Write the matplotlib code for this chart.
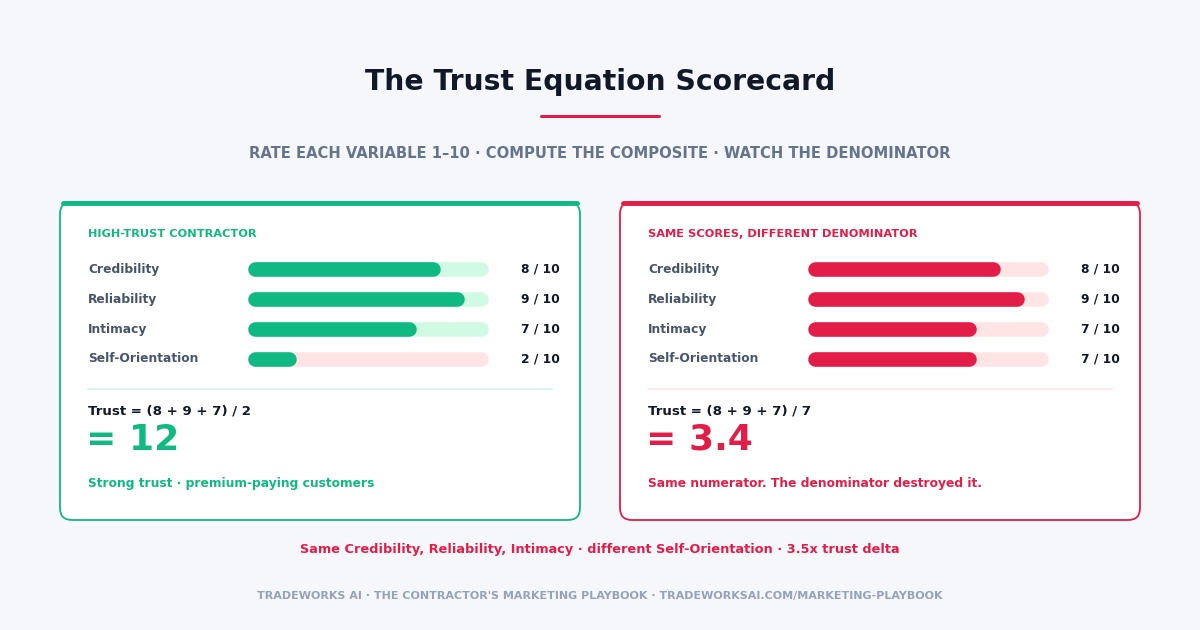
import matplotlib.pyplot as plt
from matplotlib.patches import FancyBboxPatch

labels = ["Credibility", "Reliability", "Intimacy", "Self-Orientation"]
left_scores = [8, 9, 7, 2]
right_scores = [8, 9, 7, 7]
max_score = 10

GREEN = "#10b981"
GREEN_LIGHT = "#d1fae5"
RED = "#e11d48"
RED_LIGHT = "#ffe4e6"
DARK = "#111827"
SLATE = "#475569"

fig = plt.figure(figsize=(12, 6.3), dpi=100)
fig.patch.set_facecolor("#f5f7fa")
ax = fig.add_axes([0, 0, 1, 1])
ax.set_xlim(0, 1200)
ax.set_ylim(630, 0)
ax.axis("off")

ax.text(600, 82, "The Trust Equation Scorecard", ha="center", va="center",
        fontsize=20.3, fontweight="bold", color=DARK)
ax.plot([541, 659], [116, 116], color=RED, lw=2.2, solid_capstyle="round")
ax.text(600, 154, "RATE EACH VARIABLE 1\u201310 \u00b7 COMPUTE THE COMPOSITE \u00b7 WATCH THE DENOMINATOR",
        ha="center", va="center", fontsize=10.6, fontweight="bold", color="#64748b")


def card(x0, color, track_colors, scores, title, formula, result, note, divider):
    box = FancyBboxPatch((x0, 202), 520, 318, boxstyle="round,pad=0,rounding_size=12",
                         fc="white", ec=color, lw=1.3)
    ax.add_patch(box)
    ax.plot([x0 + 3, x0 + 517], [202.5, 202.5], color=color, lw=3.5, solid_capstyle="round")
    ax.text(x0 + 28, 234, title, fontsize=8.2, fontweight="bold", color=color, va="center")
    track0 = x0 + 188
    unit = 240 / max_score
    for i, (lab, v) in enumerate(zip(labels, scores)):
        y = 269 + 30 * i
        ax.text(x0 + 28, y, lab, fontsize=8.8, fontweight="bold", color=SLATE, va="center")
        ax.plot([track0 + 7, track0 + max_score * unit - 7], [y, y], color=track_colors[i],
                lw=10.5, solid_capstyle="round")
        ax.plot([track0 + 7, track0 + v * unit - 7], [y, y], color=color,
                lw=10.5, solid_capstyle="round")
        ax.text(x0 + 500, y, f"{v} / {max_score}", fontsize=8.8, fontweight="bold",
                color=DARK, ha="right", va="center")
    ax.plot([x0 + 28, x0 + 492], [389, 389], color=divider, lw=1.2)
    ax.text(x0 + 28, 411, formula, fontsize=9.6, fontweight="bold", color=DARK, va="center")
    ax.text(x0 + 26, 440, result, fontsize=26, fontweight="bold", color=color, va="center")
    ax.text(x0 + 28, 483, note, fontsize=8.8, fontweight="bold", color=color, va="center")


l_num = sum(left_scores[:3])
r_num = sum(right_scores[:3])
card(60, GREEN, [GREEN_LIGHT] * 3 + [RED_LIGHT], left_scores, "HIGH-TRUST CONTRACTOR",
     f"Trust = ({' + '.join(map(str, left_scores[:3]))}) / {left_scores[3]}",
     f"= {l_num / left_scores[3]:g}", "Strong trust \u00b7 premium-paying customers", "#d1f5ea")
card(620, RED, [RED_LIGHT] * 4, right_scores, "SAME SCORES, DIFFERENT DENOMINATOR",
     f"Trust = ({' + '.join(map(str, right_scores[:3]))}) / {right_scores[3]}",
     f"= {r_num / right_scores[3]:.1f}", "Same numerator. The denominator destroyed it.", "#fbe4e8")

ax.text(600, 550, "Same Credibility, Reliability, Intimacy \u00b7 different Self-Orientation \u00b7 3.5x trust delta",
        ha="center", va="center", fontsize=9.3, fontweight="bold", color=RED)
ax.text(600, 596, "TRADEWORKS AI \u00b7 THE CONTRACTOR'S MARKETING PLAYBOOK \u00b7 TRADEWORKSAI.COM/MARKETING-PLAYBOOK",
        ha="center", va="center", fontsize=8, fontweight="bold", color="#94a3b8")

fig.savefig("out.png", dpi=100, facecolor=fig.get_facecolor())
